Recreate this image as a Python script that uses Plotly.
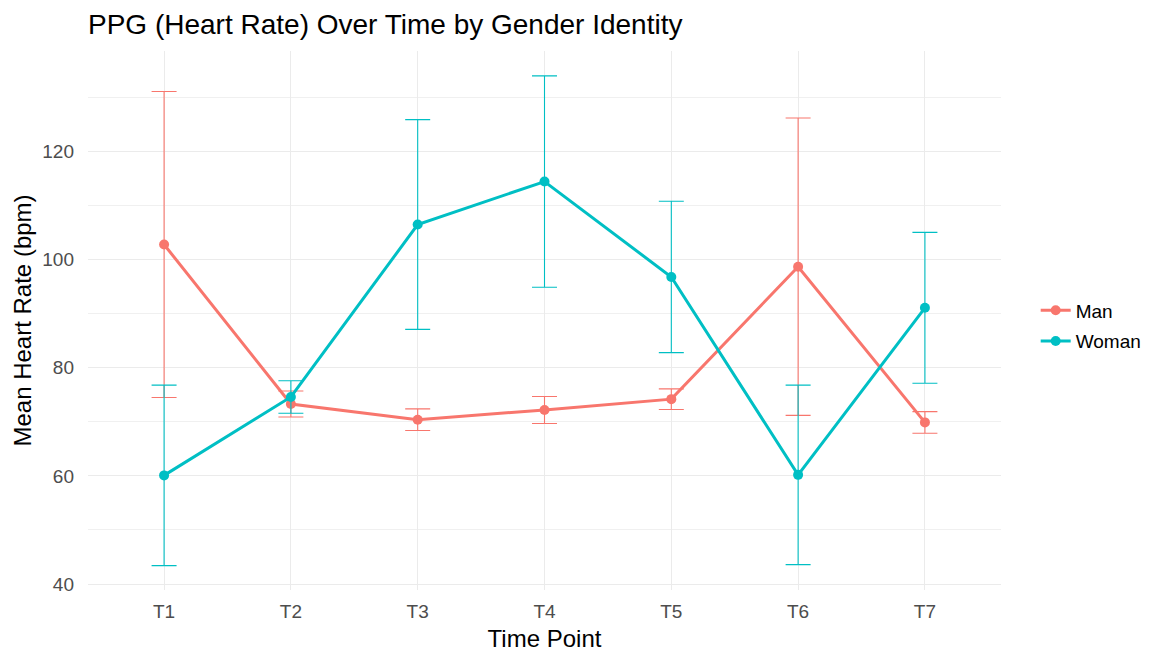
import plotly.graph_objects as go

time_points = ["T1", "T2", "T3", "T4", "T5", "T6", "T7"]
man_mean = [102.8, 73.3, 70.4, 72.2, 74.2, 98.7, 69.9]
man_se = [28.3, 2.4, 2.0, 2.5, 1.9, 27.5, 2.0]
woman_mean = [60.1, 74.6, 106.5, 114.45, 96.8, 60.2, 91.1]
woman_se = [16.7, 3.0, 19.4, 19.55, 14.0, 16.6, 13.95]

series = [("Man", man_mean, man_se, "#F8766D"), ("Woman", woman_mean, woman_se, "#00BFC4")]

FONT = "Liberation Sans, Arial, sans-serif"

fig = go.Figure()
for name, m, se, col in series:
    fig.add_trace(go.Scatter(
        x=time_points, y=m, name=name, mode="lines+markers", legendgroup=name,
        line=dict(color=col, width=3),
        marker=dict(color=col, size=10),
        error_y=dict(type="data", array=se, visible=True, color=col, thickness=1.1, width=12.5),
    ))

fig.update_layout(
    width=1154, height=656,
    margin=dict(l=80, r=161, t=43, b=74, autoexpand=False),
    paper_bgcolor="white", plot_bgcolor="white",
    font=dict(family=FONT, color="#000000"),
    title=dict(text="PPG (Heart Rate) Over Time by Gender Identity",
               x=80/1154, xanchor="left", xref="container",
               y=1-16/656, yanchor="middle", yref="container",
               font=dict(size=28, color="#000000", family=FONT)),
    legend=dict(x=1.038, xanchor="left", y=0.49, yanchor="middle",
                font=dict(size=19, color="#000000"), tracegroupgap=3,
                bgcolor="rgba(0,0,0,0)"),
    showlegend=True,
)
fig.update_xaxes(
    type="category", range=[-0.6, 6.6], automargin=False,
    showgrid=True, gridcolor="#EBEBEB", gridwidth=1,
    zeroline=False, showline=False, ticks="", ticklabelstandoff=8,
    tickfont=dict(size=19, color="#4D4D4D"),
    title=dict(text="Time Point", font=dict(size=24, color="#000000"), standoff=9),
)
fig.update_yaxes(
    range=[38.9, 138.6], tickvals=[40, 60, 80, 100, 120], automargin=False,
    showgrid=True, gridcolor="#EBEBEB", gridwidth=1,
    minor=dict(tickvals=[50, 70, 90, 110, 130], showgrid=True, gridcolor="#F0F0F0", gridwidth=1),
    zeroline=False, showline=False, ticks="", ticklabelstandoff=13,
    tickfont=dict(size=19, color="#4D4D4D"),
    title=dict(text="Mean Heart Rate (bpm)", font=dict(size=24, color="#000000"), standoff=3),
)

fig.write_html("out.html")
